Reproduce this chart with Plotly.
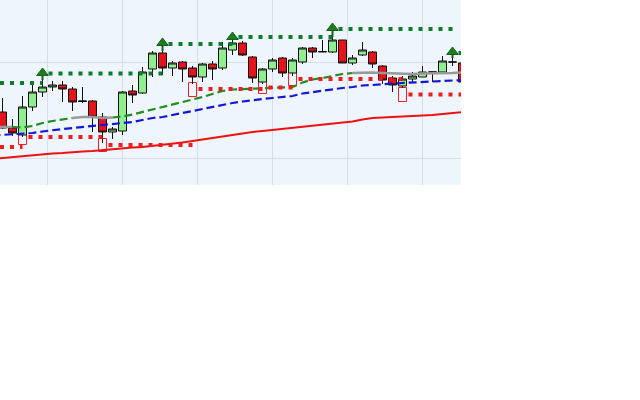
import plotly.graph_objects as go

# ---------------- data (price units) ----------------
idx = list(range(47))
opens = [88, 72, 65, 93, 108, 113, 115, 111, 98.5, 99, 83, 68, 69, 109, 107, 131,
         147, 132, 138, 132, 123, 136, 132, 150, 157, 143, 118, 131, 142, 127, 138,
         152, 148, 148, 160, 137, 145, 148, 134, 122, 114, 121, 123, 128, 128, 138, 137]
highs = [102, 81, 104, 117, 120, 119, 119, 113, 113, 100, 87, 73, 109, 115, 133, 149,
         149, 139, 139, 134, 137, 139, 158, 160, 159, 144, 132, 142, 143, 142, 153,
         153, 160, 163, 160, 145, 158, 149, 135, 124, 124, 128, 134, 128, 144, 142, 140]
lows = [71, 64, 63, 89, 103, 109, 98, 89, 97, 68, 57, 61, 65, 97, 106, 123,
        125, 124, 118, 116, 118, 120, 130, 145, 144, 117, 116, 128, 123, 124, 136,
        142, 148, 147, 137, 135, 144, 132, 116, 108, 112, 118, 123, 118, 128, 134, 116]
closes = [72, 67, 93, 108, 113, 115, 111, 98, 99, 83, 68, 71, 108, 105, 128, 147,
          132, 137, 131, 123, 136, 131, 152, 157, 145, 122, 131, 140, 127, 140, 152,
          148, 148.5, 160, 137, 142, 150, 136, 120, 115, 121, 124, 128, 128, 139, 138, 118]

ma_idx = list(range(-1, 47))
ma_long = [41, 42, 43, 44, 45, 46, 46.5, 47, 48, 48.5, 49, 50, 51, 51.5, 52.5, 53,
           54, 55, 56, 57.5, 59, 60.5, 62, 64, 65.5, 67, 68, 69, 70, 71, 72, 73,
           74, 75, 76, 77, 78.5, 80.5, 82, 82.5, 83, 83, 83.5, 84, 85, 86, 87, 88]
ma_mid = [64.5, 65, 65.5, 66, 67, 68.5, 70, 71, 72, 73, 74, 75, 76, 77, 78, 80,
          82, 83, 85, 87, 89, 91, 93.5, 95.5, 97, 98.5, 100, 101, 102, 103, 104,
          106.5, 108, 109.5, 111, 112, 113, 114.5, 115, 116, 116.5, 117, 117.5,
          118, 118.5, 119, 119.5, 120]
ma_fast = [73, 73, 73, 72.5, 74, 77, 79, 80.5, 82, 83, 83, 82, 82.5, 83.5, 85.5, 88,
           90.5, 93, 95, 98, 100, 103, 106, 109, 110.5, 111, 111.5, 112, 112, 112.5,
           113, 117.5, 120.5, 122, 124, 126, 127, 127.5, 127.5, 127, 126.5, 126, 126,
           126.5, 126.5, 127, 127, 127.5]
fast_flat_ranges = [(-1, 1), (7, 11), (35, 46)]

res_pivots = [4, 16, 23, 33, 45]
res_levels = [117, 126.5, 156, 163, 171, 147]
arrow_tips = [132, 162, 168, 177, 153]

sup_pivots = [2, 10, 19, 26, 29, 40]
sup_levels = [53, 63, 55, 111, 112.5, 121, 105.5]
box_tops = [65, 61, 117, 119, 127, 112]
box_bottoms = [55, 48, 103, 106, 114, 98]

x_grid = [4.45, 11.95, 19.45, 26.95, 34.45, 41.95]
y_grid = [42, 138]
X_RANGE = [-0.25, 45.85]
Y_RANGE = [15, 200]

# ---------------- helpers ----------------
def step_xy(pivots, levels, x0, x1, gap=0.6):
    xs, ys = [], []
    starts = [x0] + [p + gap for p in pivots]
    ends = list(pivots) + [x1]
    for s, e, lv in zip(starts, ends, levels):
        xs += [s, e, None]
        ys += [lv, lv, None]
    return xs, ys


def is_flat(j):
    return any(a <= j and j + 1 <= b for a, b in fast_flat_ranges)


runs = []
for k in range(len(ma_idx) - 1):
    flat = is_flat(ma_idx[k])
    if runs and runs[-1][0] == flat:
        runs[-1][1].append(k + 1)
    else:
        runs.append((flat, [k, k + 1]))

gx, gy, fx, fy = [], [], [], []
for flat, ks in runs:
    xs = [ma_idx[k] for k in ks] + [None]
    ys = [ma_fast[k] for k in ks] + [None]
    if flat:
        fx += xs; fy += ys
    else:
        gx += xs; gy += ys

fig = go.Figure()

# hollow support boxes
fig.add_trace(go.Bar(
    x=sup_pivots, base=box_bottoms,
    y=[t - b for t, b in zip(box_tops, box_bottoms)],
    width=0.8, marker=dict(color='rgba(0,0,0,0)', line=dict(color='#ee2222', width=1)),
    hoverinfo='skip'))

# candles
fig.add_trace(go.Candlestick(
    x=idx, open=opens, high=highs, low=lows, close=closes,
    increasing=dict(fillcolor='#90ee90', line=dict(color='#111111', width=1)),
    decreasing=dict(fillcolor='#e3141c', line=dict(color='#111111', width=1)),
    whiskerwidth=0))

# moving averages
fig.add_trace(go.Scatter(x=ma_idx, y=ma_long, mode='lines',
                         line=dict(color='#ee1111', width=2)))
fig.add_trace(go.Scatter(x=ma_idx, y=ma_mid, mode='lines',
                         line=dict(color='#1515d8', width=2.2, dash='8px,4px')))
fig.add_trace(go.Scatter(x=fx, y=fy, mode='lines',
                         line=dict(color='#999999', width=2.5)))
fig.add_trace(go.Scatter(x=gx, y=gy, mode='lines',
                         line=dict(color='#228b22', width=2.2, dash='8px,4px')))

# resistance / support dotted step lines
rx, ry = step_xy(res_pivots, res_levels, X_RANGE[0], 47)
fig.add_trace(go.Scatter(x=rx, y=ry, mode='lines',
                         line=dict(color='#0a7d2a', width=4, dash='4px,6px')))
sx, sy = step_xy(sup_pivots, sup_levels, X_RANGE[0], 47)
fig.add_trace(go.Scatter(x=sx, y=sy, mode='lines',
                         line=dict(color='#ee1c1c', width=4, dash='4px,6px')))

# up-arrows at pivot highs
tri_size = 10
stem_x, stem_y = [], []
for p, tip in zip(res_pivots, arrow_tips):
    stem_x += [p, p, None]
    stem_y += [highs[p], tip - tri_size / 2, None]
fig.add_trace(go.Scatter(x=stem_x, y=stem_y, mode='lines',
                         line=dict(color='#14601a', width=2)))
fig.add_trace(go.Scatter(
    x=res_pivots, y=[t - tri_size / 2 for t in arrow_tips], mode='markers',
    marker=dict(symbol='triangle-up', size=tri_size, color='#1c7d1f',
                line=dict(color='#14601a', width=1))))

fig.update_layout(
    width=640, height=400, autosize=False,
    margin=dict(l=0, r=179, t=0, b=215, pad=0),
    paper_bgcolor='white', plot_bgcolor='#eef5fc',
    showlegend=False, boxgap=0.2, boxgroupgap=0, bargap=0,
    xaxis=dict(range=X_RANGE, tickvals=x_grid, showticklabels=False, ticks='',
               showgrid=True, gridcolor='#d6dee7', gridwidth=1, zeroline=False,
               showline=False, rangeslider=dict(visible=False), fixedrange=True),
    yaxis=dict(range=Y_RANGE, tickvals=y_grid, showticklabels=False, ticks='',
               showgrid=True, gridcolor='#d6dee7', gridwidth=1, zeroline=False,
               showline=False, fixedrange=True),
)

fig.write_html("out.html", config={'displayModeBar': False},
               post_script="document.body.style.margin='0';")
